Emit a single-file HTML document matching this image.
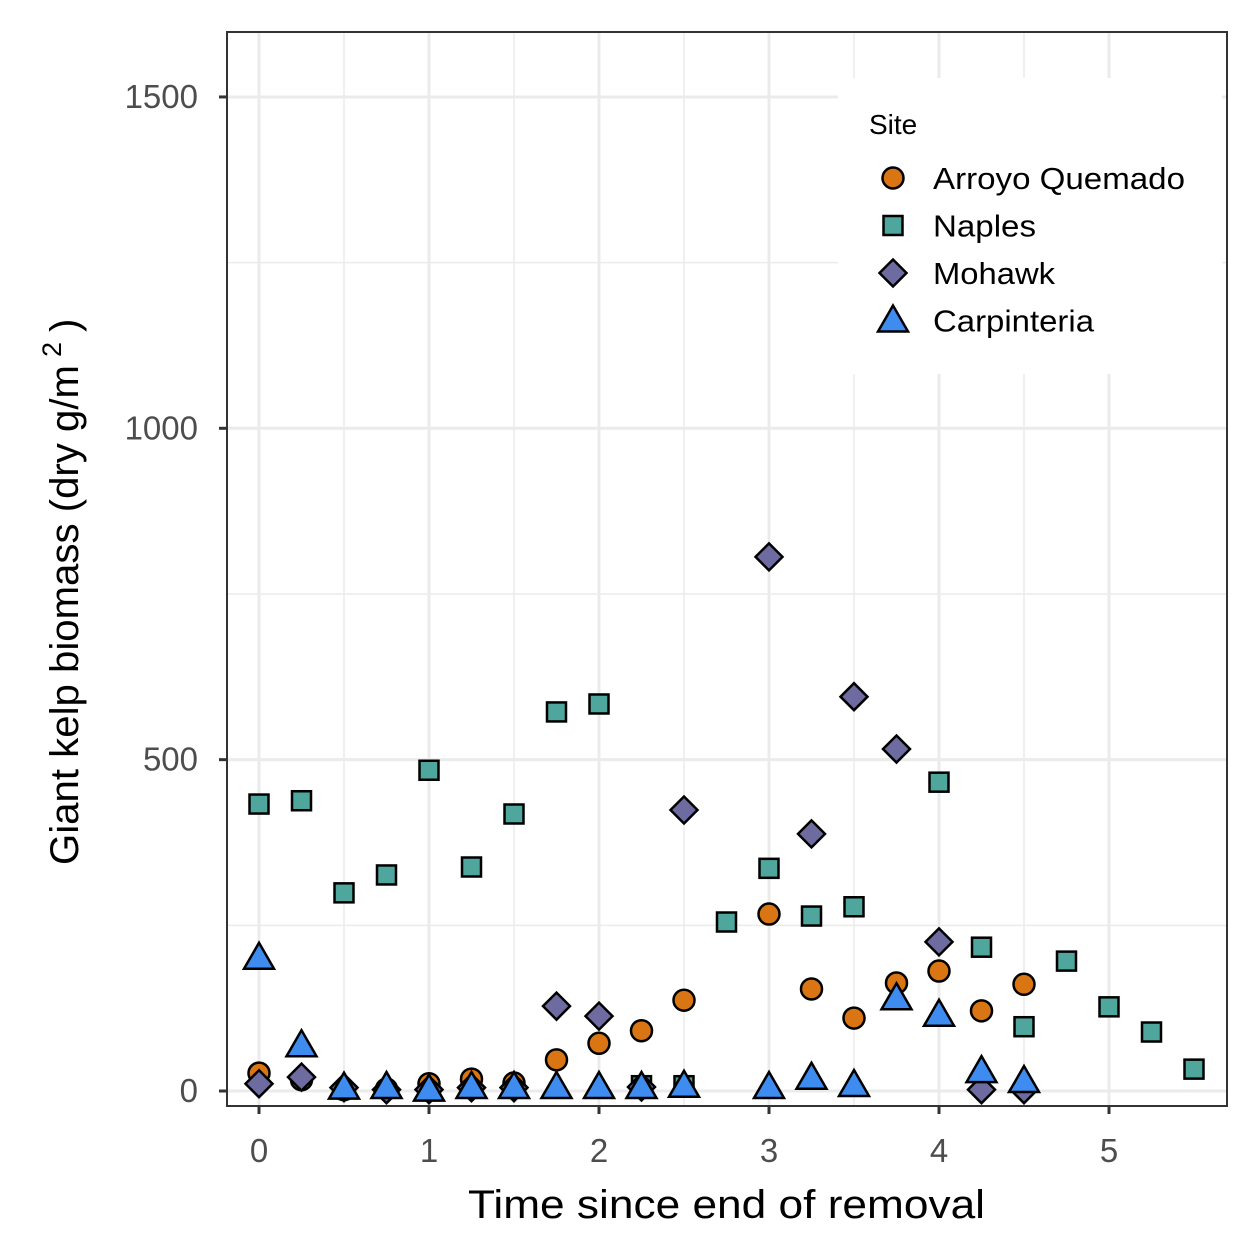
<!DOCTYPE html>
<html><head><meta charset="utf-8"><style>
html,body{margin:0;padding:0;background:#fff}
svg{display:block;font-family:"Liberation Sans",sans-serif}
</style></head><body>
<svg id="chart" width="1259" height="1259" viewBox="0 0 1259 1259">
<rect x="0" y="0" width="1259" height="1259" fill="#fff"/>
<g id="grid"></g>
<g id="points"></g>
<rect x="838" y="78" width="384" height="296" fill="#fff"/>
<rect x="227" y="32" width="1000" height="1074" fill="none" stroke="#333" stroke-width="2"/>
<g id="axes"></g>
<text x="468" y="1218" font-size="40" textLength="517" lengthAdjust="spacingAndGlyphs" fill="#000">Time since end of removal</text>
<g transform="translate(78,865) rotate(-90)">
<text x="0" y="0" font-size="40" textLength="500" lengthAdjust="spacingAndGlyphs" fill="#000">Giant kelp biomass (dry g/m</text>
<text x="508" y="-17" font-size="27" fill="#000">2</text>
<text x="533" y="0" font-size="40" fill="#000">)</text>
</g>
<g>
<text x="869" y="134" font-size="28" fill="#000">Site</text>
<g id="legend-entries"></g>
</g>
</svg>
<script>
const xTicks=[0,1,2,3,4,5];
const yTicks=[0,500,1000,1500];
const xMinor=[0.5,1.5,2.5,3.5,4.5];
const yMinor=[250,750,1250];
const siteNames=["Arroyo Quemado","Naples","Mohawk","Carpinteria"];
const arroyoX=[0,0.25,0.5,0.75,1,1.25,1.5,1.75,2,2.25,2.5,3,3.25,3.5,3.75,4,4.25,4.5];
const arroyoY=[27,17,2,3,11,18,12,47,72,91,137,267,154,110,163,181,121,161];
const naplesX=[0,0.25,0.5,0.75,1,1.25,1.5,1.75,2,2.25,2.5,2.75,3,3.25,3.5,4,4.25,4.5,4.75,5,5.25,5.5];
const naplesY=[433,438,299,326,484,338,418,572,584,8,8,255,336,264,278,466,217,97,196,127,89,33];
const mohawkX=[0,0.25,0.5,0.75,1,1.25,1.5,1.75,2,2.25,2.5,3,3.25,3.5,3.75,4,4.25,4.5];
const mohawkY=[11,21,5,2,2,5,5,128,113,6,424,806,388,595,516,225,2,2];
const carpX=[0,0.25,0.5,0.75,1,1.25,1.5,1.75,2,2.25,2.5,3,3.25,3.5,3.75,4,4.25,4.5];
const carpY=[201,69,5,6,2,6,6,6,6,6,8,6,20,9,140,115,30,15];

const NS="http://www.w3.org/2000/svg";
const sx=v=>259+v*170;
const sy=v=>1091-v*0.6627;
function mk(tag,attrs,parent){const e=document.createElementNS(NS,tag);for(const k in attrs)e.setAttribute(k,attrs[k]);parent.appendChild(e);return e;}
const grid=document.getElementById('grid');
xMinor.forEach(v=>{const l=mk('line',{x1:sx(v),x2:sx(v),y1:32,y2:1106,stroke:'#ebebeb','stroke-width':1.5},grid);

});
yMinor.forEach(v=>{const l=mk('line',{x1:227,x2:1227,y1:sy(v),y2:sy(v),stroke:'#ebebeb','stroke-width':1.5},grid);

});
xTicks.forEach(v=>{const l=mk('line',{x1:sx(v),x2:sx(v),y1:32,y2:1106,stroke:'#ebebeb','stroke-width':3},grid);

});
yTicks.forEach(v=>{const l=mk('line',{x1:227,x2:1227,y1:sy(v),y2:sy(v),stroke:'#ebebeb','stroke-width':3},grid);

});
const axes=document.getElementById('axes');
xTicks.forEach(v=>{const t=mk('line',{x1:sx(v),x2:sx(v),y1:1106,y2:1114,stroke:'#333','stroke-width':3},axes);


const tx=mk('text',{x:sx(v),y:1162,'font-size':33,'text-anchor':'middle',fill:'#4d4d4d'},axes);tx.textContent=v;

});
yTicks.forEach(v=>{const t=mk('line',{x1:219,x2:227,y1:sy(v),y2:sy(v),stroke:'#333','stroke-width':3},axes);


const tx=mk('text',{x:198,y:sy(v)+11,'font-size':33,'text-anchor':'end',fill:'#4d4d4d'},axes);tx.textContent=v;

});
const colors=['#d97512','#4ea69c','#6e6ba1','#3f8cf0'];
function shape(type,cx,cy,parent,name){
  let e;const st={stroke:'#000','stroke-width':2.5,fill:colors[type]};
  if(type===0)e=mk('circle',Object.assign({cx,cy,r:10.5},st),parent);
  else if(type===1)e=mk('rect',Object.assign({x:cx-9.5,y:cy-9.5,width:19,height:19},st),parent);
  else if(type===2)e=mk('polygon',Object.assign({points:`${cx},${cy-13.5} ${cx+13.5},${cy} ${cx},${cy+13.5} ${cx-13.5},${cy}`},st),parent);
  else e=mk('polygon',Object.assign({points:`${cx},${cy-15} ${cx+15},${cy+11} ${cx-15},${cy+11}`},st),parent);
  
  
  return e;
}
const pts=document.getElementById('points');
const series=[[arroyoX,arroyoY,'arroyo-quemado-point'],[naplesX,naplesY,'naples-point'],[mohawkX,mohawkY,'mohawk-point'],[carpX,carpY,'carpinteria-point']];
series.forEach((s,i)=>s[0].forEach((x,j)=>shape(i,sx(x),sy(s[1][j]),pts,s[2])));
const leg=document.getElementById('legend-entries');
const legW=[252,103,122,161];
siteNames.forEach((n,i)=>{const cy=178+i*47.5;shape(i,893,cy,leg,'legend-key');
const t=mk('text',{x:933,y:cy+11,'font-size':31,fill:'#000',textLength:legW[i],lengthAdjust:'spacingAndGlyphs'},leg);t.textContent=n;

});
</script>
</body></html>
